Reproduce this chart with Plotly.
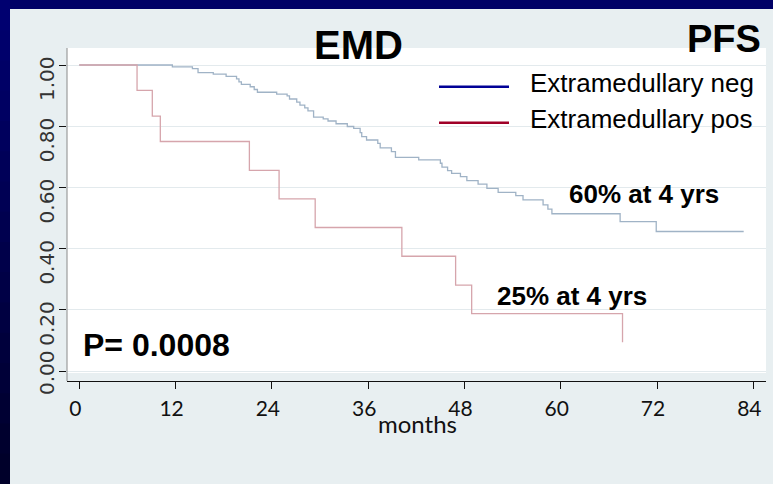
import plotly.graph_objects as go

# Kaplan-Meier progression-free survival by extramedullary disease status
neg_months = [0, 11.6, 14.1, 14.8, 16.7, 18.3, 19.6, 19.9, 20.2, 21.3, 21.8, 22.2,
              24.6, 25.9, 26.2, 27.1, 27.5, 28.1, 28.5, 29.2, 30.4, 31.0, 32.0, 33.4,
              34.2, 35.0, 35.2, 35.8, 37.2, 37.5, 38.9, 39.4, 42.3, 45.0, 45.2, 45.9,
              46.4, 47.5, 48.3, 49.7, 50.8, 52.2, 54.4, 55.3, 57.8, 58.4, 58.9, 67.4,
              71.9, 82.8]
neg_surv = [1.0, 0.994, 0.988, 0.975, 0.970, 0.963, 0.955, 0.945, 0.937, 0.929, 0.920, 0.911,
            0.905, 0.899, 0.889, 0.879, 0.869, 0.860, 0.850, 0.830, 0.824, 0.817, 0.808, 0.799,
            0.793, 0.779, 0.766, 0.755, 0.744, 0.729, 0.717, 0.698, 0.690, 0.679, 0.666, 0.655,
            0.646, 0.635, 0.622, 0.611, 0.597, 0.584, 0.573, 0.559, 0.543, 0.529, 0.514, 0.488,
            0.456, 0.456]

pos_months = [0, 7.2, 9.1, 10.1, 21.2, 24.9, 29.4, 40.2, 46.9, 48.9, 67.7]
pos_surv = [1.0, 0.917, 0.833, 0.750, 0.656, 0.5625, 0.469, 0.375, 0.281, 0.1875, 0.094]

x_ticks = [0, 12, 24, 36, 48, 60, 72, 84]
y_ticks = [0.0, 0.2, 0.4, 0.6, 0.8, 1.0]
y_tick_text = ["0.00", "0.20", "0.40", "0.60", "0.80", "1.00"]

series_names = ["Extramedullary neg", "Extramedullary pos"]
legend_colors = ["#000096", "#a00028"]
curve_colors = ["#a0b3c6", "#d6a5ac"]

W_PX, H_PX = 773, 484
L, R, T, B = 67, 7, 48, 103
PW, PH = W_PX - L - R, H_PX - T - B


def px_x(px):
    return (px - L) / PW


def px_y(py):
    return (H_PX - B - py) / PH


NAVY = "#000066"
PANEL = "#e8eff1"
ARIAL = "Liberation Sans, Arial, sans-serif"
VERDANA = "DejaVu Sans, Verdana, Bitstream Vera Sans, sans-serif"

fig = go.Figure()
fig.add_trace(go.Scatter(x=neg_months, y=neg_surv, mode="lines", line_shape="hv",
                         line=dict(color=curve_colors[0], width=1.3),
                         name=series_names[0], showlegend=False))
fig.add_trace(go.Scatter(x=pos_months, y=pos_surv, mode="lines", line_shape="hv",
                         line=dict(color=curve_colors[1], width=1.3),
                         name=series_names[1], showlegend=False))

shapes = []
# dark frame: top band and shaded left band
shapes.append(dict(type="rect", xref="paper", yref="paper",
                   x0=px_x(0), x1=px_x(W_PX), y0=px_y(9), y1=px_y(0),
                   fillcolor=NAVY, line_width=0, layer="below"))
n_bands = 16
for i in range(n_bands):
    f = i / (n_bands - 1)
    b = int(112 - 70 * f)
    shapes.append(dict(type="rect", xref="paper", yref="paper",
                       x0=px_x(0), x1=px_x(10),
                       y0=px_y(H_PX * (i + 1) / n_bands + 1), y1=px_y(H_PX * i / n_bands),
                       fillcolor=f"rgb(0,0,{b})", line_width=0, layer="below"))
# y axis line running down to the x axis
shapes.append(dict(type="line", xref="paper", yref="paper", x0=0, x1=0, y0=0, y1=1,
                   line=dict(color="#8a8a8a", width=1)))
# legend keys
for i, (c, py) in enumerate(zip(legend_colors, [86.7, 122.7])):
    shapes.append(dict(type="line", xref="paper", yref="paper",
                       x0=px_x(439), x1=px_x(509), y0=px_y(py), y1=px_y(py),
                       line=dict(color=c, width=2.5)))

annotations = []
y_label_shift = {0.0: -2}
for v, t in zip(y_ticks, y_tick_text):
    annotations.append(dict(text=t, xref="paper", yref="y", x=px_x(47), y=v,
                            yshift=y_label_shift.get(v, -14), textangle=-90,
                            xanchor="center", yanchor="middle", showarrow=False,
                            font=dict(family=VERDANA, size=20, color="#333333")))

annotations += [
    dict(text="<b>EMD</b>", x=px_x(358), y=px_y(44.7), font=dict(family=ARIAL, size=40, color="black")),
    dict(text="<b>PFS</b>", x=px_x(724), y=px_y(38.7), font=dict(family=ARIAL, size=38, color="black")),
    dict(text="<b>P= 0.0008</b>", x=px_x(156.3), y=px_y(344.7), font=dict(family=ARIAL, size=32, color="black")),
    dict(text="<b>60% at 4 yrs</b>", x=px_x(643.7), y=px_y(194.2), font=dict(family=ARIAL, size=26, color="black")),
    dict(text="<b>25% at 4 yrs</b>", x=px_x(572.2), y=px_y(296.2), font=dict(family=ARIAL, size=26, color="black")),
    dict(text=series_names[0], x=px_x(528), y=px_y(83.3), xanchor="left",
         font=dict(family=ARIAL, size=26, color="black")),
    dict(text=series_names[1], x=px_x(528), y=px_y(119.3), xanchor="left",
         font=dict(family=ARIAL, size=26, color="black")),
    dict(text="months", x=px_x(417), y=px_y(423), font=dict(family="Lato", size=24, color="#111111")),
]
for a in annotations[len(y_ticks):]:
    a.update(xref="paper", yref="paper", showarrow=False, yanchor="middle")
    a.setdefault("xanchor", "center")

fig.update_layout(
    width=W_PX, height=H_PX,
    margin=dict(l=L, r=R, t=T, b=B, pad=0),
    paper_bgcolor=PANEL, plot_bgcolor="white",
    showlegend=False,
    shapes=shapes, annotations=annotations,
    xaxis=dict(range=[-1.53, 85.58], tickvals=x_ticks, ticktext=[str(v) for v in x_ticks],
               anchor="free", position=0, showgrid=False, zeroline=False,
               showline=True, linecolor="#111111", linewidth=1,
               ticks="outside", ticklen=7, tickcolor="#111111", tickwidth=1,
               ticklabelshift=-4, ticklabelstandoff=2,
               tickfont=dict(family="Lato", size=21, color="#111111")),
    yaxis=dict(range=[-0.0065, 1.0556], domain=[8 / PH, 1], tickvals=y_ticks,
               showticklabels=False, showgrid=True, gridcolor="#e3eaed", gridwidth=1,
               zeroline=False, showline=False,
               ticks="outside", ticklen=7, tickcolor="#111111", tickwidth=1),
)

fig.write_html("out.html")
